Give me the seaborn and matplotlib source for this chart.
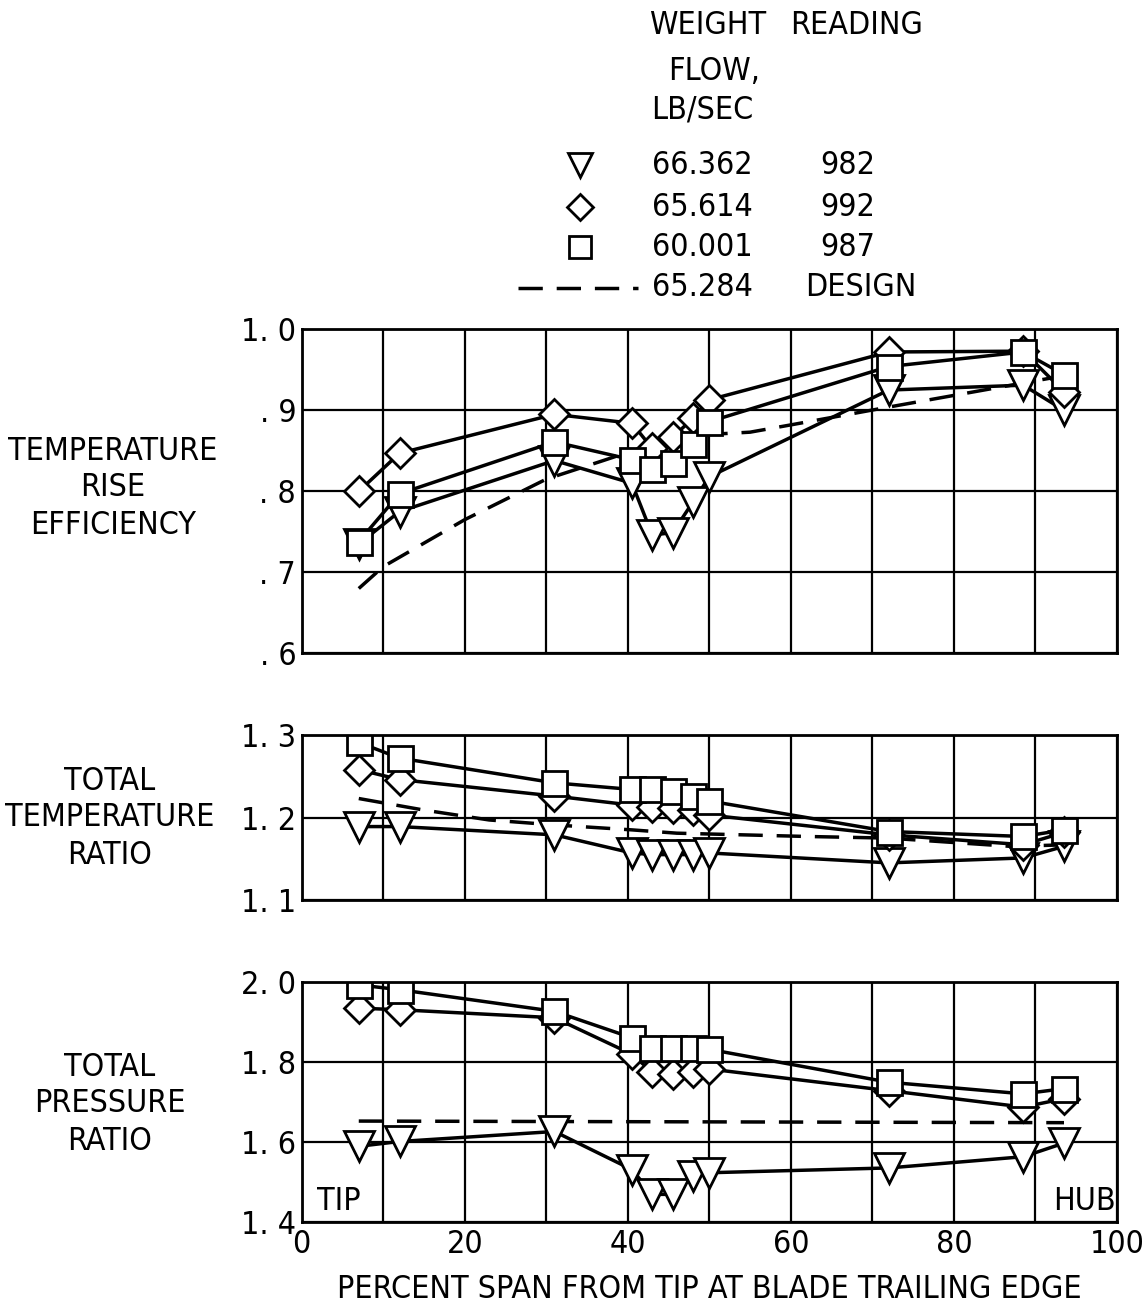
import matplotlib
matplotlib.use("Agg")
import matplotlib.pyplot as plt
import seaborn as sns

# ---------------- data ----------------
span = [7, 12, 31, 40.5, 43, 45.5, 48, 50, 72, 88.5, 93.5]

# temperature rise efficiency
eff_tri = [0.735, 0.775, 0.838, 0.81, 0.746, 0.749, 0.787, 0.818, 0.925, 0.931, 0.90]
eff_dia = [0.80, 0.847, 0.895, 0.884, 0.853, 0.867, 0.89, 0.913, 0.972, 0.973, 0.923]
eff_sq = [0.738, 0.797, 0.861, 0.839, 0.828, 0.835, 0.859, 0.886, 0.954, 0.972, 0.944]
eff_design_x = [7, 10, 20, 30, 37, 46, 55, 60, 72, 87, 92]
eff_design_y = [0.68, 0.707, 0.765, 0.815, 0.838, 0.868, 0.873, 0.882, 0.904, 0.931, 0.94]

# total temperature ratio
ttr_tri = [1.189, 1.189, 1.179, 1.157, 1.155, 1.155, 1.155, 1.157, 1.145, 1.151, 1.165]
ttr_dia = [1.258, 1.246, 1.226, 1.215, 1.213, 1.211, 1.209, 1.203, 1.179, 1.167, 1.182]
ttr_sq = [1.291, 1.272, 1.242, 1.234, 1.234, 1.232, 1.226, 1.22, 1.183, 1.177, 1.185]
ttr_design_x = [7, 15, 23, 31, 40.5, 46, 62, 72, 87, 94]
ttr_design_y = [1.223, 1.209, 1.197, 1.191, 1.185, 1.181, 1.177, 1.175, 1.165, 1.167]

# total pressure ratio
tpr_tri = [1.589, 1.601, 1.626, 1.531, 1.469, 1.469, 1.514, 1.523, 1.535, 1.563, 1.597]
tpr_dia = [1.934, 1.93, 1.91, 1.819, 1.774, 1.77, 1.774, 1.782, 1.728, 1.687, 1.708]
tpr_sq = [1.992, 1.98, 1.926, 1.86, 1.835, 1.835, 1.835, 1.831, 1.749, 1.72, 1.733]
tpr_design_x = [7, 93.5]
tpr_design_y = [1.652, 1.648]

flows = ["66.362", "65.614", "60.001", "65.284"]
readings = ["982", "992", "987", "DESIGN"]

x_ticks = [0, 20, 40, 60, 80, 100]
eff_ticks = [0.6, 0.7, 0.8, 0.9, 1.0]
eff_labels = [". 6", ". 7", ". 8", ". 9", "1. 0"]
ttr_ticks = [1.1, 1.2, 1.3]
ttr_labels = ["1. 1", "1. 2", "1. 3"]
tpr_ticks = [1.4, 1.6, 1.8, 2.0]
tpr_labels = ["1. 4", "1. 6", "1. 8", "2. 0"]

# ---------------- style ----------------
sns.set_style("white")
plt.rcParams["font.family"] = ["DejaVu Sans"]
plt.rcParams["font.stretch"] = "condensed"
for k in ("text.color", "axes.labelcolor", "xtick.color", "ytick.color"):
    plt.rcParams[k] = "black"
FS = 23

W, H = 1145, 1309
fig = plt.figure(figsize=(W / 100, H / 100), dpi=100)

LEFT, RIGHT = 301.7, 1117


def make_ax(top, bottom):
    return fig.add_axes([LEFT / W, 1 - bottom / H, (RIGHT - LEFT) / W, (bottom - top) / H])


ax_eff = make_ax(329.3, 653.3)
ax_ttr = make_ax(735, 900)
ax_tpr = make_ax(981.7, 1222)

LW = 2.5
mk = dict(markerfacecolor="white", markeredgecolor="black", markeredgewidth=2.0)
styles = [("v", 21), ("D", 15), ("s", 18)]


def draw(ax, ys, dx, dy):
    sns.lineplot(x=dx, y=dy, ax=ax, color="black", lw=LW, linestyle=(0, (7, 4)),
                 sort=False, estimator=None)
    for y, (m, ms) in zip(ys, styles):
        sns.lineplot(x=span, y=y, ax=ax, color="black", lw=LW, marker=m, markersize=ms,
                     sort=False, estimator=None, **mk)
    ax.set_xlabel("")
    ax.set_ylabel("")


draw(ax_eff, [eff_tri, eff_dia, eff_sq], eff_design_x, eff_design_y)
draw(ax_ttr, [ttr_tri, ttr_dia, ttr_sq], ttr_design_x, ttr_design_y)
draw(ax_tpr, [tpr_tri, tpr_dia, tpr_sq], tpr_design_x, tpr_design_y)

for ax, (lo, hi), ticks, labels in [
    (ax_eff, (0.6, 1.0), eff_ticks, eff_labels),
    (ax_ttr, (1.1, 1.3), ttr_ticks, ttr_labels),
    (ax_tpr, (1.4, 2.0), tpr_ticks, tpr_labels),
]:
    ax.set_xlim(0, 100)
    ax.set_ylim(lo, hi)
    ax.set_yticks(ticks)
    ax.set_yticklabels(labels, fontsize=FS)
    ax.set_xticks(range(0, 101, 10))
    ax.grid(True, color="black", lw=1.6)
    ax.set_axisbelow(True)
    for s in ax.spines.values():
        s.set_color("black")
        s.set_linewidth(2.0)
        s.set_visible(True)
    ax.tick_params(length=0, pad=4)
    ax.set_facecolor("white")

for ax in (ax_eff, ax_ttr):
    ax.tick_params(axis="x", labelbottom=False)

ax_tpr.set_xticks(range(0, 101, 10))
ax_tpr.set_xticklabels([str(v) if v in x_ticks else "" for v in range(0, 101, 10)], fontsize=FS)
ax_tpr.tick_params(axis="x", pad=5)
ax_tpr.set_xlabel("PERCENT SPAN FROM TIP AT BLADE TRAILING EDGE", fontsize=FS, labelpad=10)

ax_tpr.text(4.5, 1.45, "TIP", fontsize=FS, ha="center", va="center")
ax_tpr.text(96, 1.45, "HUB", fontsize=FS, ha="center", va="center")

# ---------------- overlay for legend and side labels (pixel coords) ----------------
ov = fig.add_axes([0, 0, 1, 1], zorder=-1)
ov.set_xlim(0, W)
ov.set_ylim(H, 0)
ov.axis("off")

ov.text(113, 488, "TEMPERATURE\nRISE\nEFFICIENCY", fontsize=FS, ha="center", va="center",
        linespacing=1.25)
ov.text(110, 818, "TOTAL\nTEMPERATURE\nRATIO", fontsize=FS, ha="center", va="center",
        linespacing=1.25)
ov.text(110, 1104, "TOTAL\nPRESSURE\nRATIO", fontsize=FS, ha="center", va="center",
        linespacing=1.25)

ov.text(708, 25, "WEIGHT", fontsize=FS, ha="center", va="center")
ov.text(714, 72, "FLOW,", fontsize=FS, ha="center", va="center")
ov.text(702, 110, "LB/SEC", fontsize=FS, ha="center", va="center")
ov.text(857, 25, "READING", fontsize=FS, ha="center", va="center")

row_y = [165, 207, 247, 288]
for yy, fl, rd in zip(row_y, flows, readings):
    ov.text(702, yy, fl, fontsize=FS, ha="center", va="center")
    ov.text(848 if rd != "DESIGN" else 861, yy, rd, fontsize=FS, ha="center", va="center")
for yy, (m, ms) in zip(row_y[:3], styles):
    ov.plot([580], [yy], marker=m, markersize=ms * 0.85, color="black", **mk)
ov.plot([518, 638], [288, 288], color="black", lw=LW, linestyle=(0, (7, 4)))

fig.savefig("out.png", dpi=100, facecolor="white")
